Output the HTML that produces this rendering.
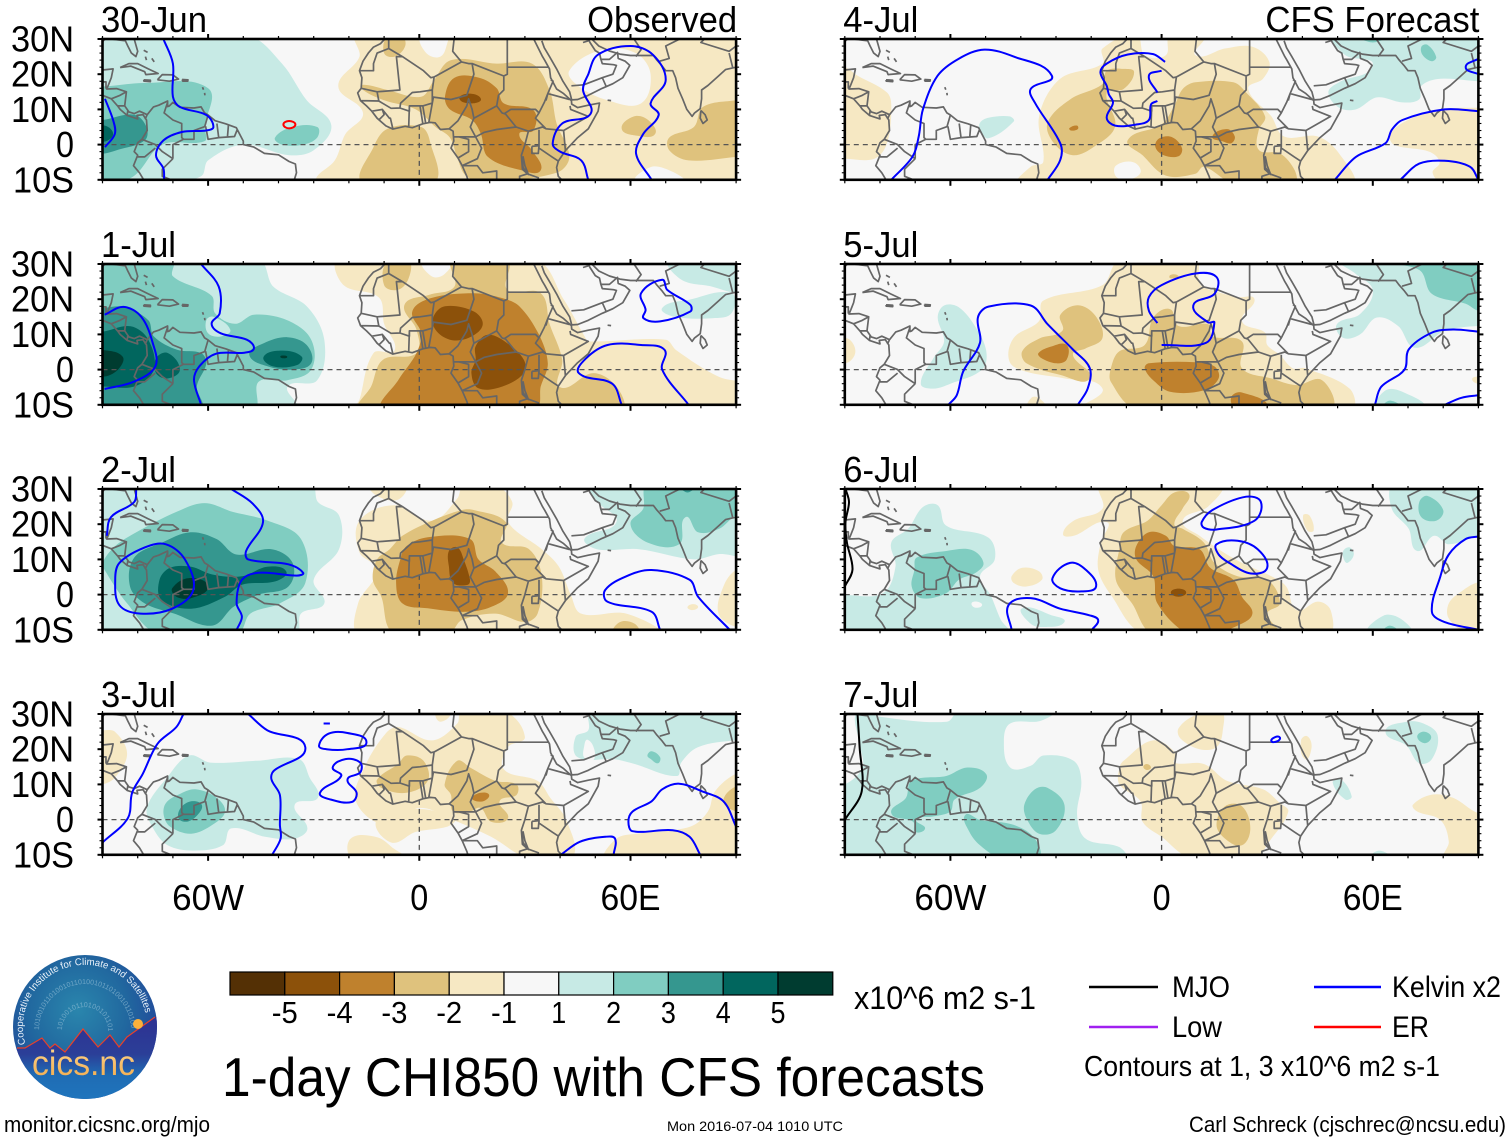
<!DOCTYPE html>
<html lang="en">
<head>
<meta charset="utf-8">
<title>1-day CHI850 with CFS forecasts</title>
<style>
html,body{margin:0;padding:0;background:#fff}
svg{display:block;font-family:"Liberation Sans",Arial,sans-serif;fill:#000}
</style>
</head>
<body>
<svg id="chart" xmlns="http://www.w3.org/2000/svg" width="1510" height="1142" viewBox="0 0 1510 1142">
<rect x="0" y="0" width="1510" height="1142" fill="#fff"/>
<g id="panels"></g>
<g id="colorbar"></g>
<text x="854" y="1009" font-size="32" textLength="182" lengthAdjust="spacingAndGlyphs">x10^6 m2 s-1</text>
<text x="222" y="1096" font-size="55" textLength="763" lengthAdjust="spacingAndGlyphs">1-day CHI850 with CFS forecasts</text>
<g>
<line x1="1089" x2="1158" y1="987" y2="987" stroke="#000" stroke-width="2.4"/>
<text x="1172" y="997" font-size="30" textLength="58" lengthAdjust="spacingAndGlyphs">MJO</text>
<line x1="1314" x2="1381" y1="987" y2="987" stroke="#0000ff" stroke-width="2.4"/>
<text x="1392" y="997" font-size="30" textLength="109" lengthAdjust="spacingAndGlyphs">Kelvin x2</text>
<line x1="1089" x2="1158" y1="1027" y2="1027" stroke="#a020f0" stroke-width="2.4"/>
<text x="1172" y="1037" font-size="30" textLength="50" lengthAdjust="spacingAndGlyphs">Low</text>
<line x1="1314" x2="1381" y1="1027" y2="1027" stroke="#ff0000" stroke-width="2.4"/>
<text x="1392" y="1037" font-size="30" textLength="37" lengthAdjust="spacingAndGlyphs">ER</text>
<text x="1084" y="1076" font-size="28.5" textLength="356" lengthAdjust="spacingAndGlyphs">Contours at 1, 3 x10^6 m2 s-1</text>
</g>
<text x="4" y="1132" font-size="22" textLength="206" lengthAdjust="spacingAndGlyphs">monitor.cicsnc.org/mjo</text>
<text x="667" y="1131" font-size="14" textLength="176" lengthAdjust="spacingAndGlyphs">Mon 2016-07-04 1010 UTC</text>
<text x="1189" y="1132" font-size="22" textLength="317" lengthAdjust="spacingAndGlyphs">Carl Schreck (cjschrec@ncsu.edu)</text>
<g>
<defs>
<radialGradient id="logo-sky" cx="0.45" cy="0.38" r="0.62">
<stop offset="0" stop-color="#2a86ad"/>
<stop offset="0.55" stop-color="#21689f"/>
<stop offset="1" stop-color="#22459a"/>
</radialGradient>
<linearGradient id="logo-sea" x1="0" y1="0" x2="0" y2="1">
<stop offset="0" stop-color="#2e3192"/>
<stop offset="0.45" stop-color="#2b3f98"/>
<stop offset="0.7" stop-color="#1f6cb4"/>
<stop offset="1" stop-color="#1f75bd"/>
</linearGradient>
<linearGradient id="logo-text" x1="0" y1="0" x2="0" y2="1">
<stop offset="0" stop-color="#ffd890"/>
<stop offset="1" stop-color="#f0a848"/>
</linearGradient>
<clipPath id="logo-clip"><circle cx="85" cy="1027" r="72"/></clipPath>
<path id="logo-arc" d="M 25.4 1044.1 A 62 62 0 1 1 145.5 1013.5"/>
<path id="logo-ring-a" d="M 39 1030 A 46 46 0 1 1 131 1030"/>
<path id="logo-ring-b" d="M 62 1030 A 23 23 0 1 1 108 1030"/>
</defs>
<circle cx="85" cy="1027" r="72" fill="url(#logo-sky)"/>
<text font-size="7" fill="#9fc6dc" opacity="0.6"><textPath href="#logo-ring-a">1010010110100101101001011010010110100101</textPath></text>
<text font-size="7" fill="#9fc6dc" opacity="0.6"><textPath href="#logo-ring-b">10100101101001011010</textPath></text>
<polygon clip-path="url(#logo-clip)" points="17,1048 25,1048 42,1038 50,1048 55,1044 65,1052 83,1029 98,1047 110,1035 119,1047 127,1037 155,1017 160,1017 160,1100 10,1100 12,1066" fill="url(#logo-sea)"/>
<polyline clip-path="url(#logo-clip)" points="17,1048 25,1048 42,1038 50,1048 55,1044 65,1052 83,1029 98,1047 110,1035 119,1047 127,1037 155,1017" fill="none" stroke="#e8402a" stroke-width="1.2"/>
<circle cx="138" cy="1024" r="5" fill="#fbb03b"/>
<text font-size="9.8" fill="#eaf2fa"><textPath href="#logo-arc" textLength="198" lengthAdjust="spacingAndGlyphs">Cooperative Institute for Climate and Satellites</textPath></text>
<text x="32" y="1075" font-size="35" fill="url(#logo-text)" textLength="103" lengthAdjust="spacingAndGlyphs">cics.nc</text>
</g>
</svg>
<script>
// ---- panel labels and axis ticks ----
const panelDates = ['30-Jun','1-Jul','2-Jul','3-Jul','4-Jul','5-Jul','6-Jul','7-Jul'];
const columnHeaders = ['Observed','CFS Forecast'];
const latTicks = [30,20,10,0,-10];
const latTickLabels = ['30N','20N','10N','0','10S'];
const lonTicks = [-60,0,60];
const lonTickLabels = ['60W','0','60E'];
const lonMinorTicks = [-90,-80,-70,-50,-40,-30,-20,-10,10,20,30,40,50,70,80,90];
const latMinorTicks = [28,26,24,22,18,16,14,12,8,6,4,2,-2,-4,-6,-8];
const colorbarValues = [-5,-4,-3,-2,-1,1,2,3,4,5];
const colorbarLevels = [-5,-4,-3,-2,-1,0,1,2,3,4,5];

// ---- map lines as lon,lat pairs ----
const mapLines = [
[-81,30,-80,26.5,-80.5,25,-81.8,26,-82.8,28,-83.5,29.5,-85,29.7,-89,30.2,-90,29.3],
[-90,21.2,-87,21.5,-87.5,19,-88.3,17,-88.8,15.8,-86,15.9,-83.2,15,-83.7,11,-82.5,9.3,-81,8.8,-79.5,9.5,-77.3,8.5,-75.5,10.7,-74,11.2,-71.5,12.4,-71.5,10.8,-71,11,-70,12,-68,10.6,-64,10.4,-62,10.7,-61,9,-60,8.4,-58,6.8,-55,5.9,-52,4.8,-50,1,-50,0,-47,-.7,-44,-2.5,-40,-2.9,-37,-4.8,-35.2,-5.5,-34.9,-8,-35.5,-10],
[-90,14,-87.5,13,-85.7,11,-85,10,-83,8.3,-80,7.3,-80.2,8.3,-78.5,8.5,-77.5,7,-77.3,4,-78.8,1.5,-80,.5,-81,-2,-80,-3,-81.2,-6,-79.5,-8,-78.3,-10],
[-85,21.9,-82.5,23,-80,23,-77,21.5,-74.2,20.2,-77.7,19.9,-78,20.7,-82,22.3,-85,21.9],
[-74.4,18.4,-73,19.9,-70,19.8,-68.4,18.6,-71,18,-74.4,18.4],
[-67.4,18.5,-65.7,18.4,-65.8,18,-67.2,18,-67.4,18.5],[-78.3,18.4,-76.4,18.3,-76.4,17.9,-78.2,18,-78.3,18.4],[-78.3,26.8,-77.2,26.2],[-77.8,25,-77.5,24],[-76,24.5,-75.3,23.5],[-61.6,16.3,-61.3,15.6],[-61,14.7,-60.9,14],
[-9.8,30,-11,28.7,-13,27.7,-14.5,26,-16,23.7,-17,21,-16.3,19,-16.5,16,-17.5,14.7,-16.7,12.5,-15,11,-13.5,9.5,-12,7.5,-9.5,5.3,-7.5,4.4,-4,5.2,-2,4.8,1,5.9,3,6.3,4.5,6.2,6,4.3,8.5,4.5,9.6,3.8,9.8,1,9,-1,11,-3.8,12.2,-6,13.5,-9,13.8,-10],
[32.5,30,33.5,28,35,25,35.6,24,37,21.5,37.3,19,39,15.8,41,14.5,43.2,12.5,43.3,11.5,45,10.5,48,11.2,51.2,11.8,50.8,9.5,48,4.5,45,2,41.5,-1.7,39.5,-4.7,39,-6.5,39.5,-9,40.5,-10],
[34.8,29.5,35.5,27.5,37,25,39,21.5,40.8,18,42.7,15,43.3,12.7,45,12.8,48,14,52,16,55,17.3,57.8,19,59.8,22.5,58.5,23.7,56.5,24.5,56.3,26.2,54,24.2,51.6,24.2,51.2,26,50,26.7,48.5,29,48,30],
[49,30,51,28,54,26.6,57,25.7,60,25.3,66.5,25.3,67.5,24,69,22.3,70,21,72,21,72.8,19,73.5,16,74.8,13,76,10,77.5,8,78.2,9,79.8,10.2,80.2,13,80.2,15.5,82,16.8,85,19.5,87,21.3,89,21.8,90,22],
[80,9.7,81.2,8.5,81.8,7,80.6,6,79.8,7.5,80,9.7],
[53.5,12.6,54.5,12.5],
[32,-.5,34,-.3,33.8,-2.5,32,-2.5,32,-.5],
[29.2,-4,29.5,-6.5,30.5,-8,31,-8.5,30,-6,29.5,-3.5,29.2,-4],
[-17,21,-13,21,-13,23,-12,26,-8.7,27.3,-8.7,30],
[-8.7,27.3,-4.8,25,1.2,21,3.3,19,4.2,19.2,12,23.5,14,23,15,23,24,19.5,24,15.5,22.5,14,22,11,23.5,9,24.5,8.7,27.5,5,31,3.8],
[-4.8,25,-6.5,25,-5.5,15.5,-12,15,-16.5,16],
[9.9,30,9.5,26.5,12,23.5],
[25,30,25,20,24,19.5],
[25,22,36.8,22],
[15,23,15.5,20,13.5,14,9,12.8,4,13.5,3.7,11.8,3.7,15.5,4.2,19.2],
[-5.5,10.4,-5.3,11.8,-2,14.8,.2,15,3.7,15.5],
[-12,15,-11.5,12.4,-16.7,12.5],
[-11.5,12.4,-8,10.3,-5.5,10.4,-2.8,9.5,-2.8,11,.2,11,1,11,3.7,11.8],
[-13.5,9.5,-10.5,10,-8.5,7.5,-8.2,7.5,-7.5,4.4],
[-11.5,7,-10,8.5,-10.5,10],
[-2.8,11,-3,5],[.2,11,1,6],[1.8,6.2,1,11],[2.7,6.3,3.7,11.8],
[8.5,4.5,11,6.8,13.5,11,14,13,15,10,15.5,7.5,22,11],
[15.5,7.5,14.5,5,16,2.2,18.5,3.5,22,4.3,27.5,5],
[9.8,2.2,16,2.2,17.7,-1,16.5,-4,12.2,-6,16.5,-6,18,-8,22,-7.5,22,-10],
[11.3,2.2,14,1.5,14,-2,11,-3.8],
[31,3.8,30,0,29,-3,29.3,-7,30.7,-8.3,28.5,-9,28.5,-10],
[24,8.7,26,10,33,10,34,9,33,7.5,36,4.5,35,5,31,3.8],
[36,12.5,36.5,14.5,38,18,37.3,18.5],
[34,9,35.5,12,36.5,14.5,42.7,12.8],
[36,4.5,41,4,48,8,43,10,42.8,11],
[34,4.2,34,-1,37.7,-3.5,39.5,-4.7],
[41.5,-1.7,41,4],
[30.7,-8.3,34,-9.5],
[43.2,16.7,46.7,17,52,19,55,20,56,22.5,55.2,22.7,52,23,51.5,24.5],
[53,16.7,52,19],
[61.5,25,63,27,61,30],
[68.3,23.7,71,24.5,70,28,74,30],
[78,30,81,30,80,29,88,26.5,90,28],
[88,26,89,22],
[46.5,29,48,29.5],
[-90,17.8,-89,17.8,-89,15.9],
[-87.5,13,-85,14,-83.2,15],
[-85.7,11,-83.7,11],
[-83,8.3,-82.8,9.6],
[-77.3,8.5,-77.9,7.2],
[-71.5,12,-72.5,9,-70,7,-67.5,6,-67.5,2,-67,1.5,-70,0,-70,-4],
[-78.8,1.5,-75,0,-73,-2,-70,-4],
[-80,-3.5,-78,-3.5,-75,-1],
[-70,-4,-73,-7,-73,-9,-70.5,-10],
[-67,1.5,-64,1.5,-64,4,-60.7,5.2],
[-60,8.4,-61,5],
[-60.7,5.2,-60,1.5,-57,2,-57.5,6],
[-54.2,5.8,-54.5,2.3],
[-51.7,4.3,-52.5,2.3,-57,2],
[-70.5,-10,-65.3,-10]
];

// ---- shaded CHI850 regions: [level, lon,lat pairs], painted in listed order ----
const shadeJun30 = [
[1,[-49,31,-39,23,-32,12.6,-25,5.5,-30,-1.6,-37,-3,-50,0,-60,-4.5,-62,-9,-72,-11,-95,-11,-95,31]],
[2,[-90,16.5,-78,17.5,-60,16,-61,5,-61,1,-73,0,-82,-9.5,-95,-11,-95,17]],
[2,[-41,2,-36,5,-29,5,-29,2,-33,0,-39,0]],
[3,[-90,7,-81,8.5,-77.5,5,-78,1.2,-86,-1.6,-90,-2.6,-95,-2.6,-95,7]],
[4,[-90,5.5,-87,3,-90,.8,-95,3]],
[-1,[-18,31,-17,25,-23,16.5,-16,9,-21,3,-24,-4.5,-29,-9,-29,-11,95,-11,95,31]],
[0,[42.6,21,52,27,61.5,26,65.7,20,63,11.7,53.5,12.6,45.4,16.5]],
[0,[61.6,-10.5,65.7,-6.4,71,-7.3,75,-10.5]],
[0,[.5,31,2,26,6,25,8,29,8,31]],
[-2,[4,18,9,24,22,23,32,23,37,15.5,39,6,42.6,-3.5,39,-8,19.5,-10.5,13.4,-9,10.7,-3.5,8.7,2,4.6,5,-1,10,-10,12.6,-16,15.5,-16,17,-9,15.5,.5,13.6]],
[-2,[-16,-11,-13,-.7,-9,4.5,.5,5,3,1,4,-11]],
[-2,[90,12.6,80.6,10.7,78,5,71,2,71,-1.6,76.5,-4.5,90,-3.5,95,-3,95,13]],
[-2,[57.5,4.5,61,8,65,7,67,3,62,2.5]],
[-2,[-9,31,-10,26,-7,25,-4,28,-5,31]],
[-3,[7.3,13.6,10,19,17,19,22,16,24,11.7,32.4,9.8,32.4,4,28.4,3,32,-1.6,34.5,-7.3,29,-7.3,19.5,-3.5,17.5,3,15,7,8.7,10]],
[-4,[11.4,13,14,14.5,17.5,13,15,11.7]]
];
const shadeJul01 = [
[1,[-45.6,31,-41.5,23.6,-32,18,-27,8.5,-29,-3,-37.4,-4.8,-35,-11,-47,-11,-95,-11,-95,31]],
[1,[71,31,74.5,25.5,83,23.6,90,21.7,95,22,95,31]],
[1,[69,17.5,76.5,19.8,88.7,21.7,88.7,16,83.3,14.6,72.5,15]],
[2,[-70,31,-70,26.5,-59,21,-58,16,-52.4,13,-47,15.6,-37.5,14,-30.7,8.5,-30.7,0,-37.5,-3,-45.6,-3.4,-47,-11,-95,-11,-95,31]],
[1,[-60.5,14,-58.5,15,-53.7,11.3,-56.4,9.4,-60,10.3]],
[3,[-90,17.5,-84,17.8,-77,14,-75.4,9.4,-68.7,5.6,-62,4.7,-60.5,1.8,-63.2,-4.8,-62,-11,-95,-11,-95,17.5]],
[3,[-48.3,4.2,-44.2,7.5,-37.5,9.2,-32,7,-30.7,1.8,-36,0,-43,.9]],
[4,[-90,10.8,-82,12.3,-77,8.5,-75.4,0,-81,-4.8,-90,-4.8,-95,-5,-95,11]],
[4,[-74.8,3.2,-71.4,4.7,-68,0,-71.4,-2.5,-74.8,-1]],
[4,[-44.2,3.7,-38.8,5.4,-33.4,3.7,-34.7,1.3,-41.5,.9]],
[5,[-90,5.6,-84.3,3.7,-85.6,0,-90,-2,-95,0,-95,5.6]],
[5,[-39.5,3.7,-38.5,4,-37.5,3.6,-38.5,3.2]],
[-1,[-23,31,-21.5,24,-11.5,20.5,-10,13,-7,5.5,-13,4.7,-17,-8.5,-18,-11,95,-11,95,-5,85,-2,73,5.5,70,8.5,48,8,47,9.4,41,20,33,31]],
[0,[1,31,3.5,26.5,7,27,9,31]],
[-2,[-9,31,-10,24,-6,22.7,-3,26,-3,31]],
[-2,[9.4,31,10,23.6,3,21.3,-4.2,18.4,-.8,11.3,-.8,4.7,-10.3,2.8,-13.7,-4.8,-17,-11,57.5,-11,56,-4.8,49.4,-1,40,-5,40.6,2.8,37,13,34.5,21.7,25,22.7,25,31]],
[-3,[-2,16.5,3.3,20.3,15.5,21.7,23.6,20.3,28.4,18,33.8,10.3,36.5,1.8,34.5,-4.8,33,-11,-10.3,-11,-6,-3,-.8,4.7,.5,10.3]],
[-4,[4,15,7.3,18,15.5,16.5,18,12.7,14,9,8.7,8.5,4.6,11.3]],
[-4,[16,6.6,19.5,9.9,25,7.5,29.7,2.8,29.7,-1,23.6,-4.8,16.8,-5.3,14.8,-1,16,2.8]]
];
const shadeJul02 = [
[1,[-30.6,31,-28.8,26.3,-22.8,22.5,-22.8,12.9,-30,4.2,-27,-2.5,-33.6,-5.4,-35,-11,-95,-11,-95,31]],
[1,[48.6,31,51,26,56,20.6,47,16,50.4,12.9,62.4,12.9,78,10,85,11.5,95,12,95,31]],
[1,[-27,17,-26,17.5,-25.5,16.8,-26.4,16.2]],
[2,[-69,23.5,-61,26,-53,23.5,-43,21,-33.6,15.8,-32.4,3.3,-39.6,-2.5,-48,-5.4,-51.6,-11,-74.4,-11,-83,-2.5,-89.4,7,-90,9,-86.4,13.8,-80.4,17.7]],
[2,[64.8,31,63.6,24.4,60,20,64.8,14.8,73.8,14.3,75.6,22,79.2,17.7,85.2,18.7,90,22.5,95,23,95,31]],
[3,[74.4,31,76.2,29,78,31]],
[3,[-81,10.5,-73,14.8,-65,17.7,-57.6,15.8,-52,11.4,-42,12.9,-36,9,-37.2,2.3,-45.6,0,-52.8,-3.5,-58.8,-8.8,-69.6,-5.4,-78,-2.5,-82.2,2.3]],
[4,[-73.8,4.2,-70.8,7.6,-64.8,7.9,-58.8,5.7,-50.4,5.2,-43.2,7.9,-37.8,6.6,-40.8,3.8,-50.4,2.8,-55.2,-.6,-64.8,-4,-73.2,-1.5]],
[5,[-70.2,1.8,-65.4,4.7,-60,2.3,-64.8,-1,-69,-.6]],
[-1,[-14,31,-12,28,-6,27,-4,31]],
[-1,[-17,21,-7,25.4,3.6,21,10.8,27.3,12.6,31,21.6,31,26.4,26.3,25.2,20.6,34.8,12.9,39.6,8,43,0,46,-5.4,58.8,-5.4,68,-11,-17,-11,-17.4,-2.5,-12,7,-17,12]],
[-1,[90,7,86.4,2.3,85,-5.4,90,-9.2,95,-9,95,7]],
[-1,[76.2,-3.5,78,-2.7,79.2,-3.6,77.4,-4.4]],
[-2,[-8.4,12.9,-4.8,16.7,3.6,21,12,24,15.6,24,24.6,20.6,23.4,14.8,31.2,12.9,34.8,5.2,33.6,-5.4,30,-7.8,21.6,-5.4,12,-7.3,8.4,-11,-7.2,-11,-10.8,-.6,-13.2,4.2,-12,10]],
[-2,[55.2,-11,57,-7.8,61.2,-8.3,62.4,-11]],
[-3,[-5.4,10,-3.6,13.8,2.4,16.3,14.4,15.8,16.8,10,21.6,6.6,25.2,.4,20.4,-3.5,13.2,-4.9,2.4,-3.9,-4.8,-2.5,-6.6,3.3]],
[-4,[8.4,12.4,10.8,13.4,12.6,10,14.4,4.2,13.8,2.8,9.6,3.3,8.4,8]]
];
const shadeJul03 = [
[1,[-77.4,3.3,-71.6,12,-65.4,18.2,-59.4,16.2,-46.2,16.7,-34.2,17.2,-31.2,12,-28.8,6.2,-35.4,4.2,-31.8,-2.5,-35.4,-5.4,-43.8,-4.9,-53.4,-2.5,-55.8,-7.3,-64.2,-8.8,-71.5,-7.3,-75.6,-2.5]],
[2,[-72,4.7,-68.4,7.1,-63.6,8.6,-57.6,6.2,-55.2,2.3,-58.8,-1.5,-64.8,-4,-70.8,-2,-72.6,1.3]],
[3,[-67.8,3.3,-64.8,5.2,-61.8,4.2,-63,1.3,-66,-.6,-68.4,.4]],
[1,[48.6,31,48,25.4,44.4,23.5,45,17.7,55.2,17.2,61.2,15.8,73.2,12.4,74.4,16.2,79.2,20.6,90,22.5,95,22,95,31]],
[0,[46.8,20.6,47.8,22.7,49.8,19.6,49.2,16.7,46.8,17.7]],
[2,[64.8,18.2,66,19.4,68.4,17.7,67.8,16,65.8,17.2]],
[-1,[-15.6,14.8,-9.6,24.4,-6,26.3,3.6,22.5,10.8,27.3,12,31,24,31,30,23.5,25.2,20.6,24,14.3,33.6,11,37.2,6.2,42,-.6,43.2,-11,31,-11,20.4,-4.9,9.6,-.1,0,3.3,-9.6,-1.5,-18,5.2]],
[-1,[-12,0,-8,-6.5,-1,-3.5,8,-2,10,0,0,3]],
[-1,[-19,-11,-19.5,-5.4,-12,-5,-7.2,-8.3,-4,-11]],
[-1,[-90,25.4,-86.4,24.9,-83,18.7,-86.4,12,-90,10,-95,10,-95,25.4]],
[-1,[4.8,31,6,27.8,9,31]],
[-1,[90,13,84,8,82,2.3,77,-2,62,-4,56,-5.4,53,-11,95,-11,95,13]],
[-2,[-12,11.4,-6,15.8,-3.6,18.2,1.2,16.7,2.4,11,-3.6,7.6,-10.8,9]],
[-2,[7.2,10,10.8,16.7,14.4,14.8,21.6,11,27.6,10,27.6,7,22.8,5.2,25.2,.4,20.4,-.6,17.4,3.3,14.4,2.3,9.6,2.3,9,7]],
[-2,[90,9.5,86.4,5.2,90,2.3,95,2,95,9.5]],
[-3,[15,6.2,17.4,7.6,19.8,7.1,18.6,5.4,16.2,5.2]]
];
const shadeJul04 = [
[1,[48.6,31,52.2,25.4,60,22.5,50.4,17.7,47.4,14.8,50.4,10.5,55.2,10,61.2,13.4,68.4,12,73.2,12.9,73.8,16.7,79.2,18.7,90,18,95,18,95,31]],
[2,[73.8,27.8,75.6,28.3,78,24.9,76.8,23.7,74.2,25.4]],
[2,[56.4,31,60,29,63.6,31]],
[1,[-51.6,6.2,-49.2,7.6,-43.2,8,-42,6.6,-49.2,1.8,-51.6,4.2]],
[-1,[-40.8,-11,-37.2,-6.3,-33.6,-4.9,-34.8,8,-28.8,18.7,-16.8,23,-16.8,27.3,-7.2,31,-4.8,25.4,1.2,25.4,2.4,31,12,31,9.6,25.4,18,27.3,25.8,27.8,30.6,23.5,28.8,18.7,24.6,15.8,31.2,8,34.8,2.3,44.4,2.3,50.4,-2.5,54,-11]],
[0,[-13,-6,-8,-5,-6,-8,-10,-10,-13,-9]],
[-1,[-90,22,-86.4,19.6,-78,14.8,-76.8,11,-78,.4,-81.6,-4,-90,-4,-95,-4,-95,22]],
[-1,[90,10.5,79,10,70,7,65,3,66,0,76,-2,79,-5,77,-8,80,-11,95,-11,95,10.5]],
[-2,[-32.4,6.2,-25.9,12.9,-16.8,17.2,-15.6,21,-10.8,21.5,-7.8,20.6,-10.8,15.8,-15.6,14.8,-13.2,5.2,-19.2,-.6,-25.2,-3,-30.6,.4]],
[-2,[6,15.8,9.6,17.7,20.4,17.7,24,14.8,29.4,8,27.6,4.2,27.6,-1.5,33.6,-2.5,37.8,-7.3,37.8,-11,20.4,-11,12,-6.3,9.6,-8.3,1.2,-8.8,-5.4,-3,-9.6,1.3,0,5.7,3.6,11]],
[-3,[-1.8,-.6,-.6,1.8,3,2.1,5.8,-1,4.8,-3.3,.6,-3]],
[-3,[14.4,2.3,18.6,4.4,20.8,2.3,19.8,.4,17.4,.9]],
[-3,[-26.2,4.7,-24,5.4,-23.8,4.4,-25.8,4]]
];
const shadeJul05 = [
[1,[50.4,31,55,27.3,60,22.5,56.4,15.8,49.8,12.9,51.6,9,56.4,10,61.2,14.8,67.2,12.4,72,6.2,80.4,11,90,12.4,95,12,95,31]],
[2,[61.2,31,73.2,28.3,76.8,21.5,86.4,18.7,90,16.7,95,17,95,31]],
[1,[-61.8,18.2,-57.6,17.7,-52.8,12,-49.8,5.2,-51,0,-60,-4,-64.8,-5.4,-68.4,-4,-64.8,3.3,-61.8,8,-63.6,14.8]],
[1,[61.2,-11,63.6,-5.9,68.4,-6.3,74.4,-11]],
[2,[63,-11,64.8,-8.8,67.8,-11]],
[-1,[-43.2,2.3,-42,9,-34.8,13.8,-33.6,19.6,-16.8,24,-12,31,9.6,31,10.8,24.4,14.4,22.5,21.6,20.6,26.4,20,22.8,13.8,29.4,10.5,30,7,33.6,4.2,37.2,.4,40.8,.4,53.4,-5.4,54,-11,-23,-11,-16.8,-5.4,-27.6,-2.5,-38.4,-.6]],
[-1,[-37,-8,-35,-8,-33,-11,-38,-11]],
[-1,[-90,9,-87,5.2,-90,1.8,-95,5]],
[-1,[90,-2,88.2,-2.7,90,-4,95,-3]],
[-2,[-39.6,5.2,-34.8,8.8,-28.2,11,-28.8,15.5,-23.8,18.3,-18.9,15.4,-16.8,9,-21.6,6,-25.2,4.2,-20.4,-2.5,-28.8,-1.5,-38.4,1.8]],
[-2,[-14.4,.4,-12,5.2,-4.8,7,-2.4,14.8,2.4,17.2,4.8,12.4,13.2,12.9,14.4,9.5,22.8,8,22.8,.4,31.2,-2.5,38.4,-4.4,45.6,-3,48,-11,-7.2,-11,-14.4,-3.5]],
[-2,[2.4,26.8,4.2,27,4.8,26.3,2.4,26]],
[-3,[-4.8,.4,-3.6,1.8,9.6,2.1,15,.9,16.2,-2.5,12,-5.9,2.4,-6.3,-2.4,-3]],
[-3,[-35,4.7,-31.2,6.6,-27,7,-27,2.8,-30,1.8,-34.2,3.3]],
[-3,[19.8,-7.8,22.8,-6.5,30,-11,21,-11]]
];
const shadeJul06 = [
[1,[-67.8,24.9,-63.6,25.4,-61.2,19.6,-49.2,16.2,-47.4,10,-51.6,5.2,-48.6,-.1,-45.6,-7.3,-43.2,-11,-95,-11,-95,-.1,-90,-.1,-79.2,.4,-75.6,8,-76.8,14.8,-72,18.7]],
[0,[-54,-2.5,-52.5,-2,-51,-3,-53,-3.7]],
[1,[-39.6,-3.9,-31.2,-5.9,-27.6,-7.8,-33.6,-9.2,-37.2,-8.3]],
[2,[-70.2,7.1,-69.6,10.5,-61.2,12.4,-54,12.7,-50.6,9,-52.8,6.2,-57.6,4.2,-61.2,.4,-68.4,-1,-71,2.3]],
[1,[66,31,65.4,24.4,70.2,18.7,72.6,12.4,77.4,16.7,81.6,14.3,90,16.7,95,17,95,31]],
[2,[73.2,26.3,75.6,28,80,24,78,21,73.8,22]],
[1,[58.8,-11,63,-6,67.8,-6.8,70.8,-11]],
[2,[63,-11,64.8,-8.8,67.2,-11]],
[1,[51.6,12.4,53.4,13.4,54.6,11.4,52.8,9,51.8,10]],
[-1,[-28,17.2,-25,21,-16.8,24.4,-17.4,31,16.8,31,13.2,25,6,21,10.8,16.7,16.2,12.9,22.8,9,31.2,5.2,35.4,2.3,38.4,-4.4,44.4,-2,48,-4.4,47.4,-11,-4.8,-11,-14.4,-.1,-18,7,-17.3,14.8,-15.6,20.6,-25,16.7]],
[-1,[-42.6,5.2,-39.6,7.6,-34.8,6.6,-34,4.2,-38.4,2.3,-42,3.3]],
[-1,[40.2,22.5,42,22.5,43.2,18.2,41.4,18.2]],
[-1,[81.6,-2.5,85.2,.9,90,3.5,95,3,95,-11,87,-11,81.6,-6.8]],
[-2,[-10.8,17.7,-4,21,0,25.4,3.6,29,7.8,28.5,6,24.5,3.6,20,6,18.7,12,14.8,15,9,21.6,5.2,30,4.2,33.6,-2.5,30,-5.4,33,-11,-2.4,-11,-8.4,-2.5,-13,4.2,-12,13]],
[-3,[-7.2,13.8,-3.6,17.7,1.2,16.7,3.6,13.8,10.8,12.9,13.8,7.6,20.4,4.2,22.8,-.6,25.8,-5.4,21.6,-8.8,14.4,-11,7.2,-11,-1.2,-2.5,-2.4,5.2,-7.2,10]],
[-4,[2.6,.6,4.8,1.7,7,.6,4.8,-.6]]
];
const shadeJul07 = [
[1,[-86.4,31,-80,29.2,-61,27.8,-57.4,31,-30.3,31,-34.5,28,-43,27.3,-44.8,22.5,-43,14.8,-37.2,15.3,-33.6,18.2,-25,16.7,-22.8,11,-24,1.3,-21.6,-5.4,-12,-7.8,-10,-11,-95,-11,-95,10,-90,10,-85,14.8,-85.8,21.5]],
[2,[-76.8,1.8,-72.6,6.2,-71,11,-61.2,12.4,-55.2,14.8,-49.8,12.9,-51.6,9,-58.8,5.7,-60,2.3,-64.8,.9,-69.6,-.1,-67.2,-2.5,-70,-3.5,-70.6,-.6]],
[2,[-39,4.2,-36,8.6,-32.4,9,-27.6,4.2,-30,-3,-34.8,-4,-38.4,.4]],
[2,[-55.8,1.3,-51.6,-.1,-42,-1.5,-36,-5.4,-35,-11,-45.6,-11,-51.6,-7.3,-54.6,-3.5]],
[1,[63.6,25,69.6,27.8,74.4,27.3,78.4,24,76.8,17.2,73.2,16,69.6,21]],
[2,[72.6,23.5,74.4,25,76.6,23.5,74.8,21.7]],
[1,[48.6,10.5,51,11.4,54,6.6,52.2,5.7]],
[1,[59.4,-11,61.8,-8.8,64.8,-11]],
[-1,[4.8,25.9,9.6,29.7,16.8,31,17.4,25.4,15.6,20.6,10.8,20,5.4,23]],
[-1,[-10.8,16.7,-2.4,22.5,4.2,18.7,3.6,16.2,12,15.8,18.6,11,28.8,8.6,33.6,4.7,36,2.3,31.2,-5.4,26,-11,8.4,-11,0,-4.9,-5.4,-.6,-6,5.2,-12,10,-12,14.8]],
[-1,[39.6,22.5,41.4,23.7,42.6,20.6,40.8,17.2]],
[-1,[71.4,4.2,76.8,7.1,82.8,6.2,90,1.8,95,2,95,-11,80.4,-11,81.6,-6.3,79.2,-.1,72.6,2.3]],
[-2,[15.6,-1.5,18,3.8,22.8,3.8,25.2,-2.5,22.8,-7.3,18,-5.4]],
[-2,[-5.2,15,-4.2,15.8,-3,14.8,-4.2,14.1]]
];

// ---- wave contours: [wave, closed, lon,lat pairs] ----
const contourJun30 = [
['kelvin',0,[-89.3,13,-87,7,-86.5,3,-89.3,-.7]],
['kelvin',0,[-72.7,30,-70,23,-70,13.6,-68,10.7,-60.5,8.4,-58.5,5,-60.5,4,-67.3,3.6,-72.7,1.2,-74.8,-3,-72.7,-6.8,-72.5,-10]],
['kelvin',0,[66,-10,61.6,-2.6,63.6,3,68,8.4,65.7,11.7,70,18.3,66.4,25.5,60,28,50.7,25.5,48,20,46.5,15.5,48.7,8.8,40.6,6,37.9,.3,40,-2,46,-4.5,48,-10]],
['er',1,[-38.6,5.7,-37,6.7,-35.2,5.7,-37,4.6]]
];
const contourJul01 = [
['kelvin',0,[-89.4,15.6,-84,17.8,-79,15,-75.7,7.5,-75,.9,-81,-3.4,-89.4,-5.5]],
['kelvin',0,[-62,30,-57,23.6,-56.7,16,-59,13,-56.4,10.3,-49,8.5,-47,6,-49.7,4.8,-57.8,4.5,-62.5,.9,-64,-3,-62,-10]],
['kelvin',1,[69,25.5,63,21.7,64.3,17,63.7,14.6,68.4,13.7,77,16.5,77,18.4,70.4,22.7]],
['kelvin',0,[57.5,-10,54.8,-4,45.3,-1,47.4,3.2,53.5,7,63,7,69.7,5.6,69,0,76.5,-10]]
];
const contourJul02 = [
['kelvin',0,[-80.4,30,-81,26.3,-87.6,22,-88.8,16.7]],
['kelvin',1,[-86.4,4.2,-85.2,9,-78,13.4,-72,14.3,-66.6,10,-64.2,1.3,-70.2,-4,-79.2,-5.4,-85.2,-3]],
['kelvin',0,[-53.4,30,-47.4,25.9,-44.4,20.6,-49.2,12.4,-48.6,10,-37.2,8.6,-33,6.2,-34.8,5.4,-45.6,6.2,-50.4,4.2,-51.9,-2.5,-50.4,-6.3,-51.9,-10]],
['kelvin',0,[88.2,-10,79.2,-.6,76.8,4.2,66,7,58.8,5.2,52.8,1.3,53.4,-2,66,-4.9,68.4,-10]]
];
const contourJul03 = [
['kelvin',0,[-67,30,-69,26.3,-74.4,21.5,-78.6,12.9,-81.6,7.6,-82.8,.4,-90,-6.5]],
['kelvin',0,[-48.6,30,-43.2,25.4,-32.4,20.6,-41.4,13.8,-42,11.4,-39.6,7,-39.6,-1.5,-39.4,-5.4,-41.8,-10]],
['kelvin',1,[-28.5,21,-25.8,24.4,-20.4,24.6,-15,22,-20.4,20,-26.4,20]],
['kelvin',0,[-27.2,27.3,-25.4,27.3]],
['kelvin',1,[-16.8,16.2,-21,17.2,-24.6,14.8,-22.2,12.4,-28.2,7.6,-25.2,5.7,-19.2,5,-17.8,7.6,-20.4,11.4,-16.8,13.4]],
['kelvin',0,[90,-2,86.4,5.2,80.4,8,73.8,10.2,69,8.6,66,5.2,60.6,2.3,59.4,-.6,60.6,-3.3,72,-3,76.8,-4.9,79.8,-10]],
['kelvin',0,[40.2,-10,45.6,-6.3,52.8,-4.9,55.6,-5.4,55.2,-10]]
];
const contourJul04 = [
['kelvin',0,[-76.8,-10,-70.8,-3.5,-69,2.3,-67.8,10,-63.6,19.6,-57.6,24.4,-50.4,27,-42,25,-31.2,19.6,-37.2,15.8,-36,11.9,-28.8,.4,-28.8,-4.4,-32.4,-10]],
['kelvin',0,[1,23.5,-2.4,25.7,-9.6,25.6,-15.6,23,-17.4,20.6,-15.6,16.7,-15,14.3,-13.8,11.9,-15.6,7.6,-13.2,5.4,-7.2,5.7,-3.6,7,-3,11.4,-1.2,12.4]],
['kelvin',0,[0,21,-3.6,19.6,-1.2,14.8]],
['kelvin',0,[49.2,-10,55.2,-3.5,63.6,.4,65.4,4.2,68.4,7,80.4,10,90,9.5]],
['kelvin',0,[67.8,-10,73.2,-5.4,80.4,-4.6,87.6,-6.3,90,-10]],
['kelvin',0,[90,24.4,86.4,22,90,20]]
];
const contourJul05 = [
['kelvin',0,[-60.6,-10,-58.2,-7.3,-56.4,-.6,-51.6,7.6,-52.2,14.8,-49.2,17.9,-37.2,18.2,-32.4,12.9,-25.2,5.7,-20.4,.4,-21,-5.4,-23.8,-10]],
['kelvin',0,[-1.2,13.2,-3.6,16.7,-3.6,20.6,0,24,9.6,27.3,15.6,26.3,15,21.5,9,18.2,13.2,13.4,15,13.4,12.6,7.6,0,7]],
['kelvin',0,[60.6,-10,62.4,-4.9,69,0,70.2,5.7,76.8,10.5,82.8,11.4,90,10.8]],
['kelvin',0,[80.4,-10,85.2,-8,90,-7.3]]
];
const contourJul06 = [
['mjo',0,[-89.8,30,-88.8,26.3,-89.8,20.6,-89.4,14.8,-87.8,7.1,-90,2.3]],
['kelvin',1,[11.4,20.6,14.4,24,24,27.8,28.2,26.3,26.4,21,15.6,18.5,12,19]],
['kelvin',1,[15.6,14.3,21.6,15.3,27.3,12.9,30,7.6,25.4,6,19.2,9,16.2,11.4]],
['kelvin',1,[-31,4.7,-26,9,-21.6,7.1,-18.6,2.3,-22.8,.9,-28.8,1.8]],
['kelvin',0,[-42.6,-10,-43.5,-3,-37.2,-1,-28.8,-4,-20.4,-5.9,-18,-7.3,-19.8,-10]],
['kelvin',0,[90,-10,80.4,-7.8,76.8,-4.9,79.2,5.2,81.6,11.4,86.4,15.8,90,16.5]]
];
const contourJul07 = [
['mjo',0,[-86.4,30,-85.8,20.6,-85.2,8,-90,-.1]],
['kelvin',1,[31.2,22.3,32.4,23.5,33.6,23.3,33,22.3]]
];

// ---- drawing ----
const svg = document.getElementById('chart');
const panelsGroup = document.getElementById('panels');
const colorbarGroup = document.getElementById('colorbar');
const NS = 'http://www.w3.org/2000/svg';
const DEG = 3.52;
const LON_MIN = -90, LON_MAX = 90, LAT_MIN = -10, LAT_MAX = 30;
const shadeSets = [shadeJun30, shadeJul01, shadeJul02, shadeJul03, shadeJul04, shadeJul05, shadeJul06, shadeJul07];
const contourSets = [contourJun30, contourJul01, contourJul02, contourJul03, contourJul04, contourJul05, contourJul06, contourJul07];
const columnOrigins = [419.3, 1161.6];
const rowEquators = [144.6, 369.6, 594.6, 819.6];

function levelColor(level) {
  const ramp = {'-5':'#543005','-4':'#8c510a','-3':'#bf812d','-2':'#dfc27d','-1':'#f6e8c3','0':'#f7f7f7','1':'#c7eae5','2':'#80cdc1','3':'#35978f','4':'#01665e','5':'#003c30'};
  return ramp[String(level)];
}
function waveColor(wave) {
  return wave === 'mjo' ? '#000000' : wave === 'er' ? '#ff0000' : wave === 'low' ? '#a020f0' : '#0000ff';
}
function make(tag, parent) {
  const el = document.createElementNS(NS, tag);
  parent.appendChild(el);
  return el;
}
function toPoints(flat, xAxis, yAxis) {
  const pts = [];
  for (let i = 0; i < flat.length; i += 2) pts.push([xAxis(flat[i]), yAxis(flat[i + 1])]);
  return pts;
}
function dist(a, b) { return Math.hypot(a[0] - b[0], a[1] - b[1]); }
function smoothPath(pts, closed) {
  const n = pts.length;
  const dirAt = function (i) {
    const prev = closed ? pts[(i - 1 + n) % n] : pts[Math.max(i - 1, 0)];
    const next = closed ? pts[(i + 1) % n] : pts[Math.min(i + 1, n - 1)];
    const d = dist(prev, next) || 1;
    return [(next[0] - prev[0]) / d, (next[1] - prev[1]) / d];
  };
  let d = 'M' + pts[0][0].toFixed(1) + ' ' + pts[0][1].toFixed(1);
  const segs = closed ? n : n - 1;
  for (let i = 0; i < segs; i++) {
    const a = pts[i], b = pts[(i + 1) % n];
    const len = dist(a, b) / 3;
    const da = dirAt(i), db = dirAt((i + 1) % n);
    d += 'C' + (a[0] + da[0] * len).toFixed(1) + ' ' + (a[1] + da[1] * len).toFixed(1) + ' ' +
         (b[0] - db[0] * len).toFixed(1) + ' ' + (b[1] - db[1] * len).toFixed(1) + ' ' +
         b[0].toFixed(1) + ' ' + b[1].toFixed(1);
  }
  return closed ? d + 'Z' : d;
}
function linePath(pts) {
  return 'M' + pts.map(function (p) { return p[0].toFixed(1) + ' ' + p[1].toFixed(1); }).join('L');
}
function addText(parent, x, y, size, anchor, content, fitWidth) {
  const t = make('text', parent);
  t.setAttribute('x', x);
  t.setAttribute('y', y);
  t.setAttribute('font-size', size);
  t.setAttribute('text-anchor', anchor);
  if (fitWidth) {
    t.setAttribute('textLength', fitWidth);
    t.setAttribute('lengthAdjust', 'spacingAndGlyphs');
  }
  t.textContent = content;
  return t;
}
function addTick(parent, x1, y1, x2, y2, width) {
  const l = make('line', parent);
  l.setAttribute('x1', x1); l.setAttribute('y1', y1);
  l.setAttribute('x2', x2); l.setAttribute('y2', y2);
  l.setAttribute('stroke', '#000');
  l.setAttribute('stroke-width', width);
  return l;
}
function latLabelWidth(label) { return label.length === 1 ? 18 : label === '10S' ? 61 : 63; }
function lonLabelWidth(label) { return label.length === 1 ? 18 : label === '60W' ? 72 : 60; }
function dateLabelWidth(label) { return label.length === 6 ? 106 : 75; }
function headerLabelWidth(label) { return label.length === 8 ? 150 : 214; }

panelDates.forEach(function (date, idx) {
  const col = idx < 4 ? 0 : 1;
  const row = idx % 4;
  const x = function (lon) { return columnOrigins[col] + DEG * lon; };
  const y = function (lat) { return rowEquators[row] - DEG * lat; };
  const left = x(LON_MIN), right = x(LON_MAX), top = y(LAT_MAX), bottom = y(LAT_MIN);

  const g = make('g', panelsGroup);
  
  

  const clip = make('clipPath', g);
  clip.setAttribute('id', 'clip-' + idx);
  const clipRect = make('rect', clip);
  clipRect.setAttribute('x', left);
  clipRect.setAttribute('y', top);
  clipRect.setAttribute('width', right - left);
  clipRect.setAttribute('height', bottom - top);

  const bg = make('rect', g);
  
  
  bg.setAttribute('x', left);
  bg.setAttribute('y', top);
  bg.setAttribute('width', right - left);
  bg.setAttribute('height', bottom - top);
  bg.setAttribute('fill', levelColor(0));

  const clipped = make('g', g);
  
  
  clipped.setAttribute('clip-path', 'url(#clip-' + idx + ')');

  shadeSets[idx].forEach(function (region) {
    const p = make('path', clipped);
    
    
    p.setAttribute('d', smoothPath(toPoints(region[1], x, y), true));
    p.setAttribute('fill', levelColor(region[0]));
  });

  const equator = make('line', clipped);
  
  
  equator.setAttribute('x1', left); equator.setAttribute('x2', right);
  equator.setAttribute('y1', y(0)); equator.setAttribute('y2', y(0));
  equator.setAttribute('stroke', '#555');
  equator.setAttribute('stroke-width', 1.3);
  equator.setAttribute('stroke-dasharray', '5 4');

  const meridian = make('line', clipped);
  
  
  meridian.setAttribute('x1', x(0)); meridian.setAttribute('x2', x(0));
  meridian.setAttribute('y1', y(5.6)); meridian.setAttribute('y2', y(LAT_MIN));
  meridian.setAttribute('stroke', '#555');
  meridian.setAttribute('stroke-width', 1.3);
  meridian.setAttribute('stroke-dasharray', '5 4');

  const map = make('path', clipped);
  
  
  map.setAttribute('d', mapLines.map(function (line) { return linePath(toPoints(line, x, y)); }).join(''));
  map.setAttribute('fill', 'none');
  map.setAttribute('stroke', '#666');
  map.setAttribute('stroke-width', 1.7);
  map.setAttribute('stroke-linejoin', 'round');

  contourSets[idx].forEach(function (c) {
    const p = make('path', clipped);
    
    
    p.setAttribute('d', smoothPath(toPoints(c[2], x, y), c[1] === 1));
    p.setAttribute('fill', 'none');
    p.setAttribute('stroke', waveColor(c[0]));
    p.setAttribute('stroke-width', 2);
  });

  const frame = make('rect', g);
  
  
  frame.setAttribute('x', left);
  frame.setAttribute('y', top);
  frame.setAttribute('width', right - left);
  frame.setAttribute('height', bottom - top);
  frame.setAttribute('fill', 'none');
  frame.setAttribute('stroke', '#000');
  frame.setAttribute('stroke-width', 2.6);

  const ticks = make('g', g);
  
  
  lonTicks.forEach(function (lon) {
    addTick(ticks, x(lon), top - 5, x(lon), top, 2);
    addTick(ticks, x(lon), bottom, x(lon), bottom + 6, 2);
  });
  lonMinorTicks.forEach(function (lon) {
    addTick(ticks, x(lon), top - 3, x(lon), top, 1.2);
    addTick(ticks, x(lon), bottom, x(lon), bottom + 3.5, 1.2);
  });
  latTicks.forEach(function (lat) {
    addTick(ticks, left - 5, y(lat), left, y(lat), 2);
    addTick(ticks, right, y(lat), right + 5, y(lat), 2);
  });
  latMinorTicks.forEach(function (lat) {
    addTick(ticks, left - 3, y(lat), left, y(lat), 1.1);
    addTick(ticks, right, y(lat), right + 3, y(lat), 1.1);
  });

  latTicks.forEach(function (lat, i) {
    if (col !== 0) return;
    const t = addText(g, 74, y(lat) + 12.5, 36, 'end', latTickLabels[i], latLabelWidth(latTickLabels[i]));
    
    
  });

  const dateLabel = addText(g, left - 1.5, top - 7, 36, 'start', date, dateLabelWidth(date));
  
  

  if (row === 0) {
    const head = addText(g, right + 1, top - 7, 36, 'end', columnHeaders[col], headerLabelWidth(columnHeaders[col]));
    
    
  }
  if (row === 3) {
    lonTicks.forEach(function (lon, i) {
      const t = addText(g, x(lon), bottom + 55, 36, 'middle', lonTickLabels[i], lonLabelWidth(lonTickLabels[i]));
      
      
    });
  }
});

// ---- colorbar ----
const cbLeft = 230, cbWidth = 54.8, cbTop = 972, cbHeight = 23;
const cbX = function (i) { return cbLeft + i * cbWidth; };
colorbarLevels.forEach(function (level, i) {
  const r = make('rect', colorbarGroup);
  
  
  r.setAttribute('x', cbX(i));
  r.setAttribute('y', cbTop);
  r.setAttribute('width', cbWidth);
  r.setAttribute('height', cbHeight);
  r.setAttribute('fill', levelColor(level));
  r.setAttribute('stroke', '#000');
  r.setAttribute('stroke-width', 1.2);
});
colorbarValues.forEach(function (v, i) {
  const t = addText(colorbarGroup, cbX(i + 1), 1023, 31, 'middle', String(v), v < 0 ? 26 : 15);
  
  
});
</script>
</body>
</html>
